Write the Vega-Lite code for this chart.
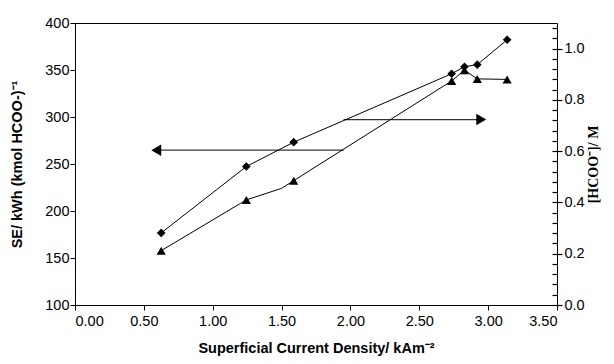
{
  "$schema": "https://vega.github.io/schema/vega-lite/v6.json",
  "width": 482,
  "height": 282,
  "autosize": "none",
  "padding": {"left": 75, "top": 23, "right": 57, "bottom": 59},
  "background": "white",
  "config": {
    "view": {"stroke": "black", "strokeWidth": 1},
    "font": "Liberation Sans",
    "axis": {
      "grid": false,
      "domainColor": "black",
      "tickColor": "black",
      "labelColor": "black",
      "titleColor": "black",
      "labelFont": "Liberation Sans",
      "labelFontSize": 14.5,
      "titleFont": "Liberation Sans",
      "titleFontSize": 14.5,
      "titleFontWeight": "bold",
      "tickSize": 5,
      "labelPadding": 1
    }
  },
  "datasets": {
    "se": [
      {"cd": 0.626, "se": 176.7},
      {"cd": 1.244, "se": 247.3},
      {"cd": 1.588, "se": 273.2},
      {"cd": 2.735, "se": 346.0},
      {"cd": 2.828, "se": 353.5},
      {"cd": 2.921, "se": 355.7},
      {"cd": 3.138, "se": 382.2}
    ],
    "conc": [
      {"cd": 0.626, "c": 0.212, "marked": true},
      {"cd": 1.244, "c": 0.41, "marked": true},
      {"cd": 1.5, "c": 0.455, "marked": false},
      {"cd": 1.588, "c": 0.485, "marked": true},
      {"cd": 2.735, "c": 0.874, "marked": true},
      {"cd": 2.828, "c": 0.916, "marked": true},
      {"cd": 2.921, "c": 0.882, "marked": true},
      {"cd": 3.138, "c": 0.88, "marked": true}
    ],
    "arrows": [
      {"from": 1.95, "to": 0.59, "level": 264.7, "dir": "triangle-left"},
      {"from": 1.95, "to": 2.95, "level": 297.3, "dir": "triangle-right"}
    ]
  },
  "layer": [
    {
      "layer": [
        {
          "data": {"name": "arrows"},
          "mark": {"type": "rule", "color": "#333333", "strokeWidth": 1.3},
          "encoding": {
            "x": {"field": "from", "type": "quantitative", "scale": {"domain": [0, 3.5]}, "axis": {"values": [0, 0.5, 1, 1.5, 2, 2.5, 3, 3.5], "format": ".2f", "title": "Superficial Current Density/ kAm⁻²", "titlePadding": 14, "labelPadding": 4}},
            "x2": {"field": "to"},
            "y": {"field": "level", "type": "quantitative", "scale": {"domain": [100, 400]}, "axis": {"values": [100, 150, 200, 250, 300, 350, 400], "title": "SE/ kWh (kmol HCOO-)⁻¹", "titlePadding": 20}}
          }
        },
        {
          "data": {"name": "arrows"},
          "mark": {"type": "point", "filled": true, "color": "black", "size": 130, "opacity": 1},
          "encoding": {
            "x": {"field": "to", "type": "quantitative", "scale": {"domain": [0, 3.5]}, "axis": {"values": [0, 0.5, 1, 1.5, 2, 2.5, 3, 3.5], "format": ".2f", "title": "Superficial Current Density/ kAm⁻²", "titlePadding": 14, "labelPadding": 4}},
            "y": {"field": "level", "type": "quantitative", "scale": {"domain": [100, 400]}, "axis": {"values": [100, 150, 200, 250, 300, 350, 400], "title": "SE/ kWh (kmol HCOO-)⁻¹", "titlePadding": 20}},
            "shape": {"field": "dir", "type": "nominal", "scale": null, "legend": null}
          }
        },
        {
          "data": {"name": "se"},
          "mark": {"type": "line", "color": "black", "strokeWidth": 1},
          "encoding": {
            "x": {"field": "cd", "type": "quantitative", "scale": {"domain": [0, 3.5]}, "axis": {"values": [0, 0.5, 1, 1.5, 2, 2.5, 3, 3.5], "format": ".2f", "title": "Superficial Current Density/ kAm⁻²", "titlePadding": 14, "labelPadding": 4}},
            "y": {"field": "se", "type": "quantitative", "scale": {"domain": [100, 400]}, "axis": {"values": [100, 150, 200, 250, 300, 350, 400], "title": "SE/ kWh (kmol HCOO-)⁻¹", "titlePadding": 20}}
          }
        },
        {
          "data": {"name": "se"},
          "mark": {"type": "point", "shape": "diamond", "filled": true, "color": "black", "size": 75, "opacity": 1},
          "encoding": {
            "x": {"field": "cd", "type": "quantitative", "scale": {"domain": [0, 3.5]}, "axis": {"values": [0, 0.5, 1, 1.5, 2, 2.5, 3, 3.5], "format": ".2f", "title": "Superficial Current Density/ kAm⁻²", "titlePadding": 14, "labelPadding": 4}},
            "y": {"field": "se", "type": "quantitative", "scale": {"domain": [100, 400]}, "axis": {"values": [100, 150, 200, 250, 300, 350, 400], "title": "SE/ kWh (kmol HCOO-)⁻¹", "titlePadding": 20}}
          }
        }
      ]
    },
    {
      "data": {"name": "conc"},
      "layer": [
        {
          "mark": {"type": "line", "color": "black", "strokeWidth": 1},
          "encoding": {
            "x": {"field": "cd", "type": "quantitative", "scale": {"domain": [0, 3.5]}, "axis": {"values": [0, 0.5, 1, 1.5, 2, 2.5, 3, 3.5], "format": ".2f", "title": "Superficial Current Density/ kAm⁻²", "titlePadding": 14, "labelPadding": 4}},
            "y": {"field": "c", "type": "quantitative", "scale": {"domain": [0, 1.1]}, "axis": {"orient": "right", "offset": -5, "domain": false, "values": [0, 0.04, 0.08, 0.12, 0.16, 0.2, 0.24, 0.28, 0.32, 0.36, 0.4, 0.44, 0.48, 0.52, 0.56, 0.6, 0.64, 0.68, 0.72, 0.76, 0.8, 0.84, 0.88, 0.92, 0.96, 1.0, 1.04, 1.08], "labelExpr": "abs(datum.value * 5 - round(datum.value * 5)) < 0.001 ? format(datum.value, '.1f') : ''", "tickSize": {"condition": {"test": "abs(datum.value * 5 - round(datum.value * 5)) < 0.001", "value": 10}, "value": 5}, "tickWidth": 1.2, "labelPadding": 2, "title": "[HCOO⁻]/ M", "titleFont": "Liberation Serif", "titleAngle": -90, "titlePadding": 16, "titleFontSize": 14}}
          }
        },
        {
          "transform": [{"filter": "datum.marked"}],
          "mark": {"type": "point", "shape": "triangle-up", "filled": true, "color": "black", "size": 85, "opacity": 1},
          "encoding": {
            "x": {"field": "cd", "type": "quantitative", "scale": {"domain": [0, 3.5]}, "axis": {"values": [0, 0.5, 1, 1.5, 2, 2.5, 3, 3.5], "format": ".2f", "title": "Superficial Current Density/ kAm⁻²", "titlePadding": 14, "labelPadding": 4}},
            "y": {"field": "c", "type": "quantitative", "scale": {"domain": [0, 1.1]}, "axis": {"orient": "right", "offset": -5, "domain": false, "values": [0, 0.04, 0.08, 0.12, 0.16, 0.2, 0.24, 0.28, 0.32, 0.36, 0.4, 0.44, 0.48, 0.52, 0.56, 0.6, 0.64, 0.68, 0.72, 0.76, 0.8, 0.84, 0.88, 0.92, 0.96, 1.0, 1.04, 1.08], "labelExpr": "abs(datum.value * 5 - round(datum.value * 5)) < 0.001 ? format(datum.value, '.1f') : ''", "tickSize": {"condition": {"test": "abs(datum.value * 5 - round(datum.value * 5)) < 0.001", "value": 10}, "value": 5}, "tickWidth": 1.2, "labelPadding": 2, "title": "[HCOO⁻]/ M", "titleFont": "Liberation Serif", "titleAngle": -90, "titlePadding": 16, "titleFontSize": 14}}
          }
        }
      ]
    }
  ],
  "resolve": {"scale": {"y": "independent"}, "axis": {"y": "independent"}}
}
